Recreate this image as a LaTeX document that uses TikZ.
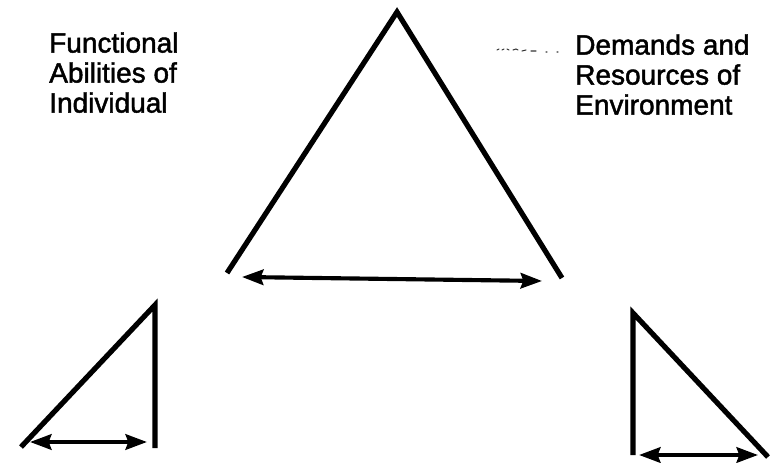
\documentclass[tikz,border=0pt]{standalone}
\usepackage{fontspec}
\setmainfont{Liberation Sans}
\usetikzlibrary{arrows.meta}
\begin{document}
\begin{tikzpicture}[x=0.75pt,y=-0.75pt,
  leg/.style={line width=3.9pt,line join=miter,line cap=butt},
  span/.style={line width=3.1pt,{Stealth[length=16pt,width=11.5pt,inset=2pt]}-{Stealth[length=16pt,width=11.5pt,inset=2pt]}},
  label/.style={inner sep=0pt,align=left,anchor=north west,font=\fontsize{21}{22.5}\selectfont\addfontfeature{FakeBold=1.6}},
  speck/.style={line width=0.8pt,line cap=round,black!80}]
\useasboundingbox (0,0) rectangle (771,463);
% big triangle
\coordinate (apex) at (397,12);
\coordinate (bl) at (227,273);
\coordinate (br) at (562,278);
\coordinate (ba) at (242,277);
\coordinate (bb) at (542,281);
\draw[leg] (bl) -- (apex) -- (br);
\draw[span] (ba) -- (bb);
% left small triangle
\coordinate (lt) at (155,305);
\coordinate (lb) at (155,448);
\coordinate (ll) at (21,447);
\coordinate (la) at (30,442);
\coordinate (lc) at (147,442);
\draw[leg] (ll) -- (lt) -- (lb);
\draw[span] (la) -- (lc);
% right small triangle
\coordinate (rt) at (633,313);
\coordinate (rb) at (633,455);
\coordinate (rr) at (768,457);
\coordinate (ra) at (639,455);
\coordinate (rc) at (758,455);
\draw[leg] (rb) -- (rt) -- (rr);
\draw[span] (ra) -- (rc);
% labels
\node[label] (ind) at (49,32) {Functional\\Abilities of\\Individual};
\node[label] (env) at (575,34) {Demands and\\Resources of\\Environment};
% scan specks
\draw[speck] (497,50) -- (499,49) (502,50) -- (504,49) (507,49) -- (509,50) (513,50) -- (516,49) -- (518,50) (522,51) -- (526,50) (531,51) -- (536,51) (546,52) -- (547,52) (557,52) -- (558,52);
\end{tikzpicture}
\end{document}
